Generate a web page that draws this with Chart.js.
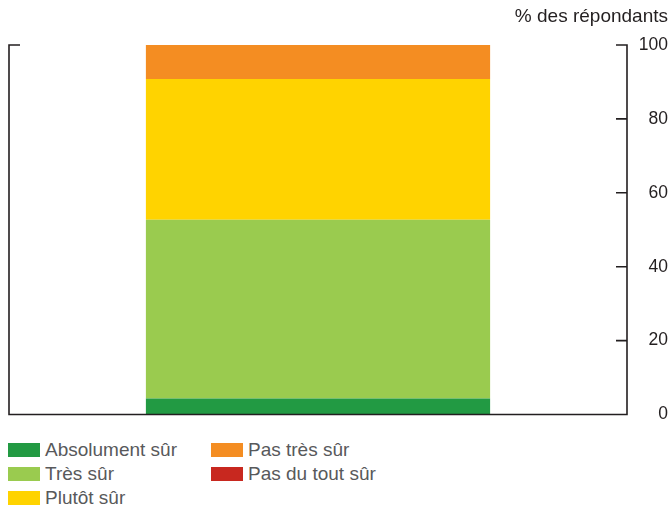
<!DOCTYPE html>
<html>
<head>
<meta charset="utf-8">
<script src="https://cdn.jsdelivr.net/npm/chart.js@4/dist/chart.umd.min.js"></script>
<style>
  html, body { margin: 0; padding: 0; background: #fff; }
  #wrap { position: relative; width: 668px; height: 508px; font-family: "Liberation Sans", Arial, sans-serif; }
  #cv { position: absolute; left: 0; top: 0; }
  #legend { position: absolute; left: 8px; top: 438px; display: grid; grid-auto-flow: column;
            grid-template-rows: repeat(3, 24px); grid-template-columns: 203px auto; }
  .item { display: flex; align-items: center; font-size: 19px; color: #58595b; white-space: nowrap; }
  .sw { width: 32px; height: 14px; margin-right: 5px; flex: none; }
</style>
</head>
<body>
<div id="wrap">
  <canvas id="cv" width="668" height="434"></canvas>
  <div id="legend"></div>
</div>
<script>
const categories = [''];
const seriesNames = ['Absolument sûr', 'Très sûr', 'Plutôt sûr', 'Pas très sûr', 'Pas du tout sûr'];
const absolumentSur = [4.3];
const tresSur = [48.4];
const plutotSur = [38.1];
const pasTresSur = [9.2];
const pasDuToutSur = [0];
const seriesColors = ['#229a43', '#9acb4f', '#ffd300', '#f48d22', '#c8281f'];
const yTicks = [0, 20, 40, 60, 80, 100];
const axisTitle = '% des répondants';

const seriesValues = [absolumentSur, tresSur, plutotSur, pasTresSur, pasDuToutSur];
const FONT = '"Liberation Sans", Arial, sans-serif';

const axesPlugin = {
  id: 'axesPlugin',
  afterDatasetsDraw(chart) {
    const ctx = chart.ctx;
    const a = chart.chartArea;
    const y = chart.scales.y;
    ctx.save();
    ctx.strokeStyle = '#231f20';
    ctx.lineWidth = 1.6;
    ctx.lineCap = 'butt';
    ctx.beginPath();
    ctx.moveTo(a.left, y.getPixelForValue(100));
    ctx.lineTo(a.left, y.getPixelForValue(0));
    ctx.lineTo(a.right, y.getPixelForValue(0));
    ctx.lineTo(a.right, y.getPixelForValue(100));
    ctx.moveTo(a.left - 0.8, y.getPixelForValue(100));
    ctx.lineTo(a.left + 11, y.getPixelForValue(100));
    yTicks.forEach(v => {
      if (v === 0) return;
      const py = y.getPixelForValue(v);
      ctx.moveTo(a.right - 11, py);
      ctx.lineTo(a.right + 0.8, py);
    });
    ctx.stroke();
    ctx.restore();
  }
};

const chart = new Chart(document.getElementById('cv'), {
  type: 'bar',
  data: {
    labels: categories,
    datasets: seriesNames.map((name, i) => ({
      label: name,
      data: seriesValues[i],
      backgroundColor: seriesColors[i],
      borderWidth: 0,
      categoryPercentage: 1,
      barPercentage: 0.557
    }))
  },
  options: {
    responsive: false,
    animation: false,
    events: [],
    layout: { padding: { left: 9, right: 0, top: 0, bottom: 12 } },
    plugins: {
      legend: { display: false },
      tooltip: { enabled: false },
      title: {
        display: true,
        text: axisTitle,
        align: 'end',
        color: '#231f20',
        font: { family: FONT, size: 19, weight: 'normal' },
        padding: { top: 5, bottom: 17.2 }
      }
    },
    scales: {
      x: { stacked: true, display: false },
      y: {
        stacked: true,
        position: 'right',
        min: 0,
        max: 100,
        afterBuildTicks: s => { s.ticks = yTicks.map(v => ({ value: v })); },
        afterFit: s => { s.width = 41; },
        ticks: {
          padding: 9,
          crossAlign: 'far',
          color: '#231f20',
          font: { family: FONT, size: 17.5 }
        },
        grid: { display: false, drawTicks: false },
        border: { display: false }
      }
    }
  },
  plugins: [axesPlugin]
});

const legend = document.getElementById('legend');
chart.data.datasets.forEach(ds => {
  const it = document.createElement('div');
  it.className = 'item';
  const sw = document.createElement('span');
  sw.className = 'sw';
  sw.style.background = ds.backgroundColor;
  const tx = document.createElement('span');
  tx.textContent = ds.label;
  it.appendChild(sw);
  it.appendChild(tx);
  legend.appendChild(it);
});
</script>
</body>
</html>
